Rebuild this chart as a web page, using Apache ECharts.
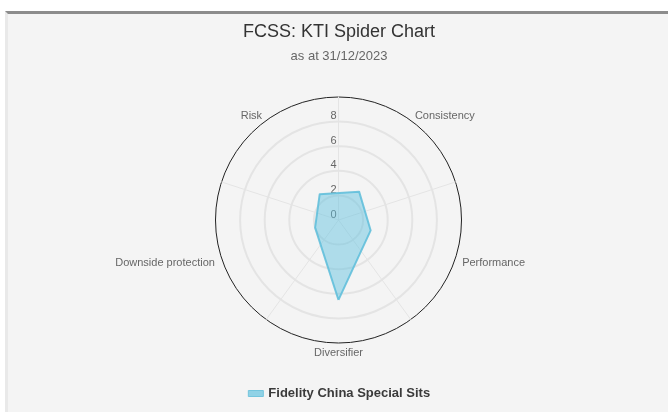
<!DOCTYPE html>
<html><head><meta charset="utf-8">
<script src="https://cdn.jsdelivr.net/npm/echarts@6/dist/echarts.min.js"></script>
<style>
html,body{margin:0;padding:0;background:#fff;width:668px;height:412px;overflow:hidden}
#frame{position:absolute;left:5px;top:11px;right:0;bottom:0;background:#f4f4f4;border-top:3px solid #8c8c8c;border-left:3px solid #e9e9e9}
#chart{position:absolute;left:8px;top:0;width:662px;height:412px}
</style></head><body><div id="frame"></div><div id="chart"></div>
<script>
const titleText = 'FCSS: KTI Spider Chart';
const subtitleText = 'as at 31/12/2023';
const seriesName = 'Fidelity China Special Sits';
// counter-clockwise from the bottom
const categories = ['Diversifier', 'Performance', 'Consistency', 'Risk', 'Downside protection'];
const values = [6.5, 2.75, 2.85, 2.6, 2.0];
const tickLabels = ['0', '2', '4', '6', '8'];
const axisMin = 0;
const axisMax = 10;

const FONT = '"Liberation Sans", Arial, Helvetica, sans-serif';
const CX = 330.5, CY = 220, R = 123;
const gridColor = '#e4e4e4';
// per-axis name placement tweaks (same order as categories)
const nameGaps = [4, 7, 7, 7, 7];
const namePads = [[0, 0, 0, 0], [6, 0, 0, 0], [3, 0, 0, 0], [3, 0, 0, 0], [6, 0, 0, 0]];

const chart = echarts.init(document.getElementById('chart'), null, {renderer: 'canvas'});

const spokeIndicators = categories.map(function (c, i) {
  const ind = {name: '', min: axisMin, max: axisMax};
  if (i === 0) {
    ind.axisLabel = {
      show: true,
      color: '#666',
      fontSize: 11,
      fontFamily: FONT,
      margin: 2,
      verticalAlign: 'bottom',
      formatter: function (v) {
        const s = String(v);
        return tickLabels.indexOf(s) >= 0 ? s : '';
      }
    };
  }
  return ind;
});

const nameRich = {};
namePads.forEach(function (p, i) {
  nameRich['p' + i] = {padding: p, color: '#666', fontSize: 11, fontFamily: FONT};
});

const option = {
  backgroundColor: 'transparent',
  textStyle: {fontFamily: FONT},
  animation: false,
  title: {
    text: titleText,
    subtext: subtitleText,
    left: 'center',
    top: 18,
    itemGap: 9,
    textStyle: {fontSize: 18, fontWeight: 'normal', color: '#333', fontFamily: FONT},
    subtextStyle: {fontSize: 13, color: '#666', fontFamily: FONT}
  },
  legend: {
    data: [seriesName],
    left: 'center',
    top: 382,
    icon: 'rect',
    itemWidth: 15,
    itemHeight: 6,
    itemStyle: {color: 'rgba(91,192,222,0.65)', borderColor: '#74c5dd', borderWidth: 1},
    textStyle: {fontSize: 13, fontWeight: 'bold', color: '#3a3a3a', fontFamily: FONT}
  },
  radar: [
    {
      center: [CX, CY],
      radius: R,
      startAngle: -90,
      shape: 'circle',
      splitNumber: 5,
      indicator: categories.map(function (c, i) {
        return {name: c, min: axisMin, max: axisMax, nameGap: nameGaps[i]};
      }),
      axisName: {
        color: '#666', fontSize: 11, fontFamily: FONT,
        formatter: function (name) {
          const i = categories.indexOf(name);
          return '{p' + i + '|' + name + '}';
        },
        rich: nameRich
      },
      nameGap: 7,
      axisLine: {show: false},
      axisTick: {show: false},
      splitArea: {show: false},
      splitLine: {lineStyle: {color: [gridColor, gridColor, gridColor, gridColor, gridColor, 'rgba(0,0,0,0)'], width: 2}}
    },
    {
      center: [CX, CY],
      radius: R,
      startAngle: 90,
      shape: 'circle',
      splitNumber: 5,
      indicator: spokeIndicators,
      axisName: {show: false},
      axisLine: {show: true, lineStyle: {color: gridColor, width: 1}},
      axisTick: {show: false},
      axisLabel: {show: false},
      splitArea: {show: false},
      splitLine: {lineStyle: {color: ['rgba(0,0,0,0)', 'rgba(0,0,0,0)', 'rgba(0,0,0,0)', 'rgba(0,0,0,0)', 'rgba(0,0,0,0)', '#222'], width: 1}}
    }
  ],
  series: [{
    type: 'radar',
    radarIndex: 0,
    symbol: 'none',
    z: 5,
    data: [{
      name: seriesName,
      value: values,
      lineStyle: {color: '#74c5dd', width: 2},
      areaStyle: {color: 'rgba(91,192,222,0.65)'},
      itemStyle: {color: 'rgba(91,192,222,0.65)', borderColor: '#74c5dd'}
    }]
  }]
};
chart.setOption(option);
</script></body></html>
